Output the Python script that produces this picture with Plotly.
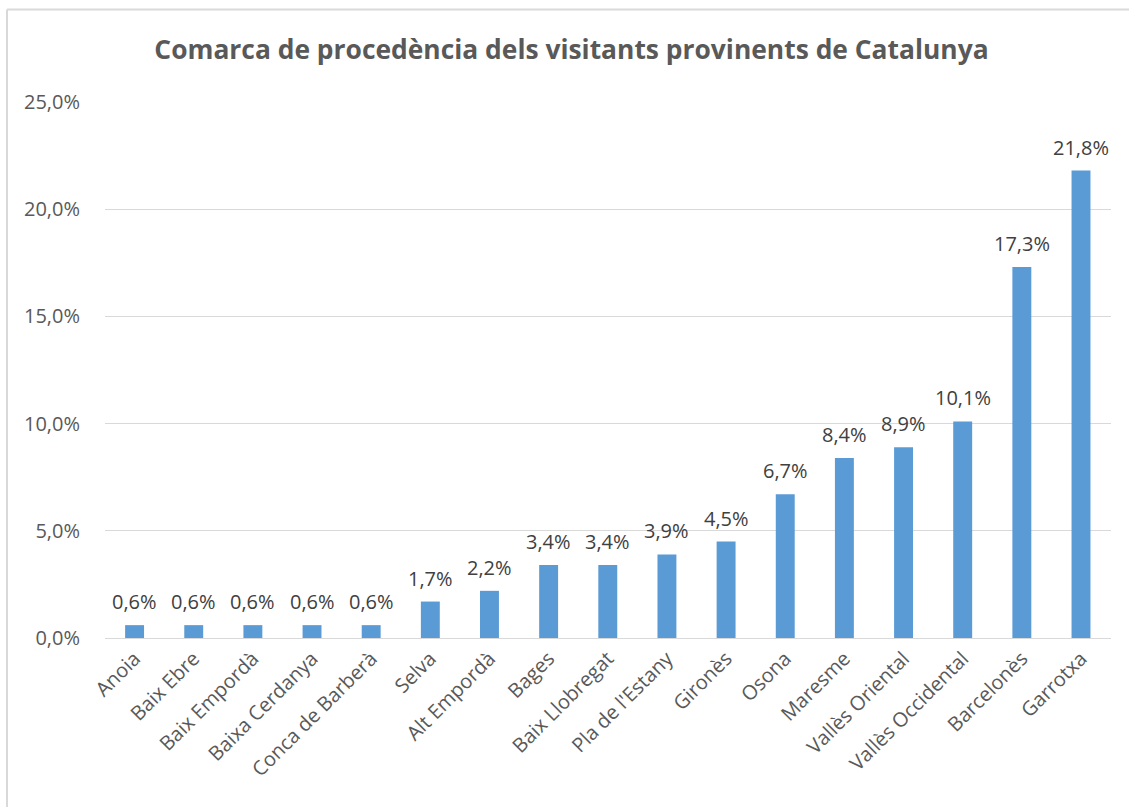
import plotly.graph_objects as go

categories = ["Anoia", "Baix Ebre", "Baix Empordà", "Baixa Cerdanya", "Conca de Barberà",
              "Selva", "Alt Empordà", "Bages", "Baix Llobregat", "Pla de l'Estany",
              "Gironès", "Osona", "Maresme", "Vallès Oriental", "Vallès Occidental",
              "Barcelonès", "Garrotxa"]
values = [0.6, 0.6, 0.6, 0.6, 0.6, 1.7, 2.2, 3.4, 3.4, 3.9, 4.5, 6.7, 8.4, 8.9, 10.1, 17.3, 21.8]
y_ticks = [0, 5, 10, 15, 20, 25]
y_tick_text = [f"{v:.1f}%".replace(".", ",") for v in y_ticks]
value_labels = [f"{v:.1f}%".replace(".", ",") for v in values]

FONT = "Open Sans"

W, H = 1129, 807
BORDER = "#d9d9d9"

fig = go.Figure()
fig.add_trace(go.Bar(
    x=categories, y=values,
    marker=dict(color="#5B9BD5", line=dict(width=0)),
))

for c, v, t in zip(categories, values, value_labels):
    fig.add_annotation(x=c, y=v, text=t, showarrow=False, xref="x", yref="y",
                       yanchor="bottom", yshift=8,
                       font=dict(family=FONT, size=20, color="#404040"))

# chart frame (top and left edges visible in the reference)
top_y = (638 - 9.5) / 536
left_x = (7 - 105) / 1006
fig.add_shape(type="line", xref="paper", yref="paper", x0=left_x, x1=1.05, y0=top_y, y1=top_y,
              line=dict(color=BORDER, width=2))
fig.add_shape(type="line", xref="paper", yref="paper", x0=left_x, x1=left_x, y0=-0.4, y1=top_y,
              line=dict(color=BORDER, width=2))

fig.update_layout(
    width=W, height=H,
    paper_bgcolor="white", plot_bgcolor="white",
    margin=dict(l=105, r=18, t=102, b=169),
    bargap=0.68,
    showlegend=False,
    title=dict(text="<b>Comarca de procedència dels visitants provinents de Catalunya</b>",
               x=571.5 / W, xref="container", xanchor="center",
               y=1 - 50 / H, yref="container", yanchor="middle",
               font=dict(family=FONT, size=26.4, color="#595959")),
    xaxis=dict(tickangle=-45, tickfont=dict(family=FONT, size=20, color="#595959"),
               showline=True, linecolor="#d9d9d9", linewidth=1, ticks="",
               showgrid=False),
    yaxis=dict(range=[0, 25], tickvals=y_ticks, ticktext=y_tick_text,
               tickfont=dict(family=FONT, size=20, color="#595959"),
               showgrid=True, gridcolor="#d9d9d9", gridwidth=1, zeroline=False,
               ticks="outside", ticklen=20, tickcolor="white", showline=False),
)

fig.write_html("out.html", config={"displayModeBar": False},
               post_script="document.body.style.margin='0';")
